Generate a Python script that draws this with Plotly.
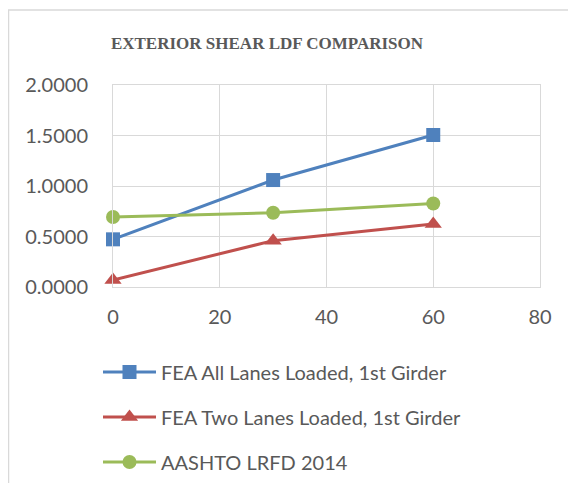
import plotly.graph_objects as go

X_VALUES = [0, 30, 60]
ALL_LANES = [0.472, 1.059, 1.505]
TWO_LANES = [0.069, 0.459, 0.624]
AASHTO = [0.693, 0.735, 0.826]

SERIES = [
    ("FEA All Lanes Loaded, 1st Girder", ALL_LANES, "#4f81bd", "square", 14),
    ("FEA Two Lanes Loaded, 1st Girder", TWO_LANES, "#c0504d", "triangle-up", 15),
    ("AASHTO LRFD 2014", AASHTO, "#9bbb59", "circle", 14),
]
LEGEND_ROWS = [372, 417, 462]  # page y of each legend entry

TEXT = "#595959"
GRID = "#d9d9d9"
FONT = "Lato, 'Open Sans', sans-serif"

# page body has an 8px margin, so the figure is sized to fit the window
W, H = 560, 475
OFF = 8
L, R, T, B = 113 - OFF, 540 - OFF, 85 - OFF, 287 - OFF
# right margin is zero (keeps plotly's auto-margin padding at 0); the x domain
# stops the plot area at R instead
PW, PH = W - L, B - T


def px(x):
    return (x - OFF - L) / PW


def py(y):
    return (B - (y - OFF)) / PH


fig = go.Figure()
legends = {}
for i, (name, vals, color, symbol, size) in enumerate(SERIES):
    key = "legend" if i == 0 else f"legend{i + 1}"
    fig.add_trace(
        go.Scatter(
            x=X_VALUES,
            y=vals,
            mode="lines+markers",
            name=name,
            legend=key,
            line={"color": color, "width": 3},
            marker={"symbol": symbol, "size": size, "color": color},
            cliponaxis=False,
        )
    )
    legends[key] = {
        "x": px(98),
        "y": py(LEGEND_ROWS[i]),
        "xanchor": "left",
        "yanchor": "middle",
        "itemwidth": 53,
        "font": {"size": 20, "color": TEXT},
        "bgcolor": "rgba(0,0,0,0)",
    }

fig.update_layout(
    width=W,
    height=H,
    margin={"l": L, "r": 0, "t": T, "b": H - B},
    paper_bgcolor="white",
    plot_bgcolor="white",
    font={"family": FONT, "color": TEXT, "size": 20},
    title={
        "text": "<b>EXTERIOR SHEAR LDF COMPARISON</b>",
        "font": {"family": "'Liberation Serif', 'Times New Roman', serif", "size": 17, "color": TEXT},
        "x": (267 - OFF) / W,
        "xanchor": "center",
        "y": 1 - (43 - OFF) / H,
        "yanchor": "middle",
    },
    xaxis={
        "domain": [0, (R - L) / PW],
        "automargin": False,
        "range": [0, 80],
        "dtick": 20,
        "showgrid": True,
        "gridcolor": GRID,
        "gridwidth": 1,
        "showline": True,
        "mirror": True,
        "linecolor": GRID,
        "zeroline": False,
        "ticks": "",
        "ticklabelstandoff": 12,
    },
    yaxis={
        "automargin": False,
        "range": [0, 2],
        "dtick": 0.5,
        "tickformat": ".4f",
        "showgrid": True,
        "gridcolor": GRID,
        "gridwidth": 1,
        "showline": True,
        "mirror": True,
        "linecolor": GRID,
        "zeroline": False,
        "ticks": "",
        "ticklabelstandoff": 20,
    },
    showlegend=True,
    shapes=[
        {
            "type": "rect",
            "xref": "paper",
            "yref": "paper",
            "x0": px(OFF + 0.5),
            "x1": px(700),
            "y0": py(700),
            "y1": py(10),
            "line": {"color": GRID, "width": 1.5},
            "layer": "below",
        }
    ],
    **legends,
)

fig.write_html("out.html")
